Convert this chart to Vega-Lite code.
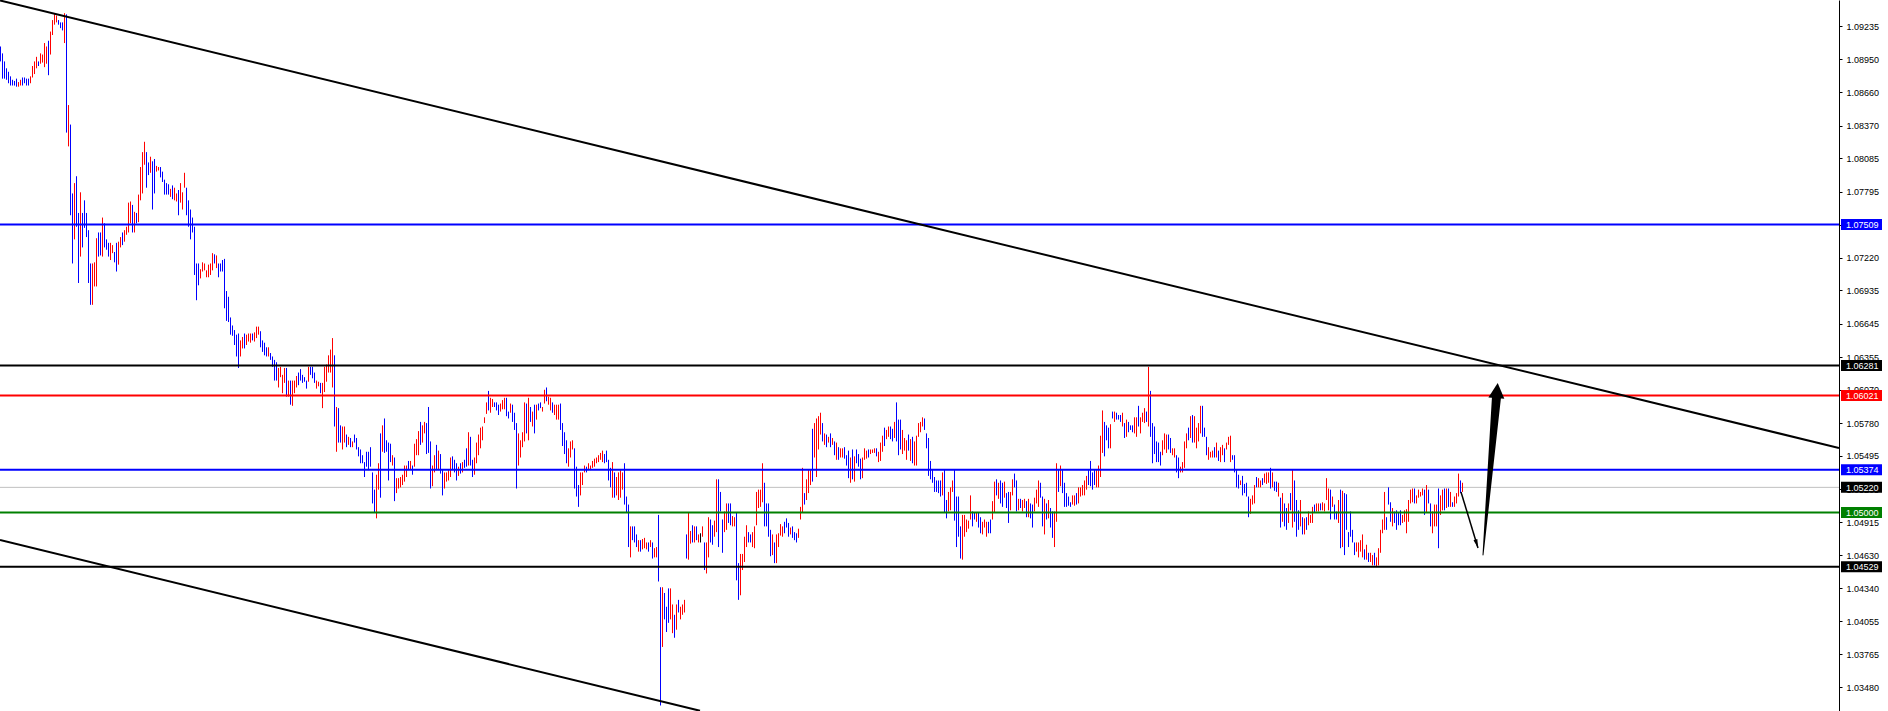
{
"$schema": "https://vega.github.io/schema/vega-lite/v6.json",
"width": 1839, "height": 711,
"autosize": "none",
"padding": {"left": 0, "top": 0, "right": 49, "bottom": 0},
"background": "#ffffff",
"config": {"view": {"stroke": null}},
"resolve": {"axis": {"y": "independent", "x": "independent"}},
"datasets": {
"bars": [
{"i":0,"h":1.0906,"l":1.0893,"t":"d"},{"i":1,"h":1.0900,"l":1.0878,"t":"d"},{"i":2,"h":1.0893,"l":1.0878,"t":"d"},{"i":3,"h":1.0887,"l":1.0877,"t":"d"},{"i":4,"h":1.0884,"l":1.0874,"t":"d"},{"i":5,"h":1.0880,"l":1.0872,"t":"d"},{"i":6,"h":1.0877,"l":1.0872,"t":"d"},{"i":7,"h":1.0876,"l":1.0872,"t":"d"},{"i":8,"h":1.0878,"l":1.0871,"t":"d"},{"i":9,"h":1.0875,"l":1.0871,"t":"u"},
{"i":10,"h":1.0877,"l":1.0872,"t":"u"},{"i":11,"h":1.0879,"l":1.0872,"t":"d"},{"i":12,"h":1.0879,"l":1.0874,"t":"d"},{"i":13,"h":1.0878,"l":1.0872,"t":"d"},{"i":14,"h":1.0878,"l":1.0872,"t":"d"},{"i":15,"h":1.0880,"l":1.0874,"t":"u"},{"i":16,"h":1.0889,"l":1.0879,"t":"u"},{"i":17,"h":1.0893,"l":1.0882,"t":"u"},{"i":18,"h":1.0897,"l":1.0887,"t":"u"},{"i":19,"h":1.0893,"l":1.0889,"t":"d"},
{"i":20,"h":1.0900,"l":1.0891,"t":"u"},{"i":21,"h":1.0899,"l":1.0892,"t":"u"},{"i":22,"h":1.0909,"l":1.0888,"t":"u"},{"i":23,"h":1.0906,"l":1.0891,"t":"u"},{"i":24,"h":1.0911,"l":1.0881,"t":"d"},{"i":25,"h":1.0919,"l":1.0899,"t":"u"},{"i":26,"h":1.0929,"l":1.0916,"t":"u"},{"i":27,"h":1.0935,"l":1.0925,"t":"u"},{"i":28,"h":1.0933,"l":1.0927,"t":"u"},{"i":29,"h":1.0929,"l":1.0925,"t":"d"},
{"i":30,"h":1.0927,"l":1.0922,"t":"d"},{"i":31,"h":1.0927,"l":1.0920,"t":"d"},{"i":32,"h":1.0935,"l":1.0909,"t":"u"},{"i":33,"h":1.0934,"l":1.0831,"t":"d"},{"i":34,"h":1.0855,"l":1.0819,"t":"u"},{"i":35,"h":1.0838,"l":1.0759,"t":"d"},{"i":36,"h":1.0778,"l":1.0717,"t":"d"},{"i":37,"h":1.0787,"l":1.0738,"t":"u"},{"i":38,"h":1.0793,"l":1.0749,"t":"d"},{"i":39,"h":1.0761,"l":1.0700,"t":"d"},
{"i":40,"h":1.0779,"l":1.0723,"t":"u"},{"i":41,"h":1.0761,"l":1.0731,"t":"d"},{"i":42,"h":1.0772,"l":1.0748,"t":"d"},{"i":43,"h":1.0761,"l":1.0740,"t":"d"},{"i":44,"h":1.0746,"l":1.0700,"t":"d"},{"i":45,"h":1.0717,"l":1.0681,"t":"d"},{"i":46,"h":1.0717,"l":1.0681,"t":"u"},{"i":47,"h":1.0718,"l":1.0697,"t":"u"},{"i":48,"h":1.0739,"l":1.0697,"t":"u"},{"i":49,"h":1.0744,"l":1.0723,"t":"d"},
{"i":50,"h":1.0744,"l":1.0724,"t":"d"},{"i":51,"h":1.0757,"l":1.0723,"t":"u"},{"i":52,"h":1.0752,"l":1.0731,"t":"d"},{"i":53,"h":1.0738,"l":1.0729,"t":"d"},{"i":54,"h":1.0735,"l":1.0723,"t":"d"},{"i":55,"h":1.0735,"l":1.0720,"t":"u"},{"i":56,"h":1.0733,"l":1.0726,"t":"u"},{"i":57,"h":1.0727,"l":1.0718,"t":"d"},{"i":58,"h":1.0735,"l":1.0710,"t":"d"},{"i":59,"h":1.0736,"l":1.0716,"t":"u"},
{"i":60,"h":1.0740,"l":1.0731,"t":"u"},{"i":61,"h":1.0744,"l":1.0733,"t":"d"},{"i":62,"h":1.0746,"l":1.0736,"t":"u"},{"i":63,"h":1.0749,"l":1.0742,"t":"u"},{"i":64,"h":1.0770,"l":1.0744,"t":"u"},{"i":65,"h":1.0771,"l":1.0752,"t":"u"},{"i":66,"h":1.0768,"l":1.0744,"t":"d"},{"i":67,"h":1.0762,"l":1.0744,"t":"u"},{"i":68,"h":1.0761,"l":1.0752,"t":"d"},{"i":69,"h":1.0777,"l":1.0753,"t":"u"},
{"i":70,"h":1.0801,"l":1.0772,"t":"u"},{"i":71,"h":1.0814,"l":1.0778,"t":"u"},{"i":72,"h":1.0823,"l":1.0803,"t":"u"},{"i":73,"h":1.0814,"l":1.0783,"t":"d"},{"i":74,"h":1.0805,"l":1.0794,"t":"d"},{"i":75,"h":1.0810,"l":1.0796,"t":"u"},{"i":76,"h":1.0806,"l":1.0764,"t":"d"},{"i":77,"h":1.0808,"l":1.0778,"t":"d"},{"i":78,"h":1.0802,"l":1.0797,"t":"u"},{"i":79,"h":1.0801,"l":1.0798,"t":"u"},
{"i":80,"h":1.0801,"l":1.0792,"t":"d"},{"i":81,"h":1.0797,"l":1.0788,"t":"d"},{"i":82,"h":1.0790,"l":1.0777,"t":"d"},{"i":83,"h":1.0787,"l":1.0777,"t":"d"},{"i":84,"h":1.0786,"l":1.0777,"t":"d"},{"i":85,"h":1.0782,"l":1.0775,"t":"u"},{"i":86,"h":1.0785,"l":1.0773,"t":"d"},{"i":87,"h":1.0783,"l":1.0772,"t":"u"},{"i":88,"h":1.0778,"l":1.0771,"t":"u"},{"i":89,"h":1.0781,"l":1.0759,"t":"d"},
{"i":90,"h":1.0787,"l":1.0770,"t":"u"},{"i":91,"h":1.0779,"l":1.0764,"t":"u"},{"i":92,"h":1.0796,"l":1.0783,"t":"u"},{"i":93,"h":1.0783,"l":1.0759,"t":"d"},{"i":94,"h":1.0772,"l":1.0749,"t":"d"},{"i":95,"h":1.0764,"l":1.0738,"t":"d"},{"i":96,"h":1.0757,"l":1.0744,"t":"d"},{"i":97,"h":1.0749,"l":1.0707,"t":"d"},{"i":98,"h":1.0717,"l":1.0685,"t":"d"},{"i":99,"h":1.0717,"l":1.0698,"t":"d"},
{"i":100,"h":1.0712,"l":1.0704,"t":"u"},{"i":101,"h":1.0718,"l":1.0710,"t":"u"},{"i":102,"h":1.0717,"l":1.0711,"t":"u"},{"i":103,"h":1.0711,"l":1.0705,"t":"u"},{"i":104,"h":1.0716,"l":1.0705,"t":"u"},{"i":105,"h":1.0717,"l":1.0707,"t":"u"},{"i":106,"h":1.0726,"l":1.0711,"t":"u"},{"i":107,"h":1.0725,"l":1.0717,"t":"d"},{"i":108,"h":1.0724,"l":1.0713,"t":"u"},{"i":109,"h":1.0717,"l":1.0705,"t":"d"},
{"i":110,"h":1.0717,"l":1.0710,"t":"d"},{"i":111,"h":1.0720,"l":1.0710,"t":"d"},{"i":112,"h":1.0721,"l":1.0678,"t":"d"},{"i":113,"h":1.0693,"l":1.0667,"t":"d"},{"i":114,"h":1.0688,"l":1.0666,"t":"d"},{"i":115,"h":1.0670,"l":1.0655,"t":"d"},{"i":116,"h":1.0663,"l":1.0654,"t":"d"},{"i":117,"h":1.0659,"l":1.0646,"t":"d"},{"i":118,"h":1.0655,"l":1.0636,"t":"d"},{"i":119,"h":1.0656,"l":1.0626,"t":"d"},
{"i":120,"h":1.0650,"l":1.0636,"t":"u"},{"i":121,"h":1.0653,"l":1.0643,"t":"u"},{"i":122,"h":1.0656,"l":1.0643,"t":"d"},{"i":123,"h":1.0655,"l":1.0646,"t":"u"},{"i":124,"h":1.0656,"l":1.0649,"t":"u"},{"i":125,"h":1.0656,"l":1.0648,"t":"u"},{"i":126,"h":1.0656,"l":1.0650,"t":"d"},{"i":127,"h":1.0657,"l":1.0649,"t":"u"},{"i":128,"h":1.0662,"l":1.0652,"t":"u"},{"i":129,"h":1.0662,"l":1.0655,"t":"u"},
{"i":130,"h":1.0658,"l":1.0644,"t":"d"},{"i":131,"h":1.0650,"l":1.0640,"t":"d"},{"i":132,"h":1.0648,"l":1.0637,"t":"d"},{"i":133,"h":1.0644,"l":1.0636,"t":"d"},{"i":134,"h":1.0644,"l":1.0636,"t":"u"},{"i":135,"h":1.0639,"l":1.0633,"t":"d"},{"i":136,"h":1.0636,"l":1.0627,"t":"d"},{"i":137,"h":1.0633,"l":1.0615,"t":"d"},{"i":138,"h":1.0631,"l":1.0615,"t":"d"},{"i":139,"h":1.0626,"l":1.0609,"t":"u"},
{"i":140,"h":1.0627,"l":1.0618,"t":"u"},{"i":141,"h":1.0620,"l":1.0604,"t":"u"},{"i":142,"h":1.0626,"l":1.0613,"t":"u"},{"i":143,"h":1.0626,"l":1.0601,"t":"d"},{"i":144,"h":1.0615,"l":1.0601,"t":"u"},{"i":145,"h":1.0615,"l":1.0594,"t":"d"},{"i":146,"h":1.0615,"l":1.0593,"t":"u"},{"i":147,"h":1.0615,"l":1.0604,"t":"u"},{"i":148,"h":1.0619,"l":1.0609,"t":"u"},{"i":149,"h":1.0622,"l":1.0611,"t":"d"},
{"i":150,"h":1.0625,"l":1.0615,"t":"d"},{"i":151,"h":1.0620,"l":1.0613,"t":"d"},{"i":152,"h":1.0618,"l":1.0614,"t":"d"},{"i":153,"h":1.0615,"l":1.0608,"t":"d"},{"i":154,"h":1.0627,"l":1.0614,"t":"u"},{"i":155,"h":1.0627,"l":1.0620,"t":"d"},{"i":156,"h":1.0627,"l":1.0617,"t":"d"},{"i":157,"h":1.0622,"l":1.0613,"t":"d"},{"i":158,"h":1.0615,"l":1.0608,"t":"u"},{"i":159,"h":1.0614,"l":1.0610,"t":"u"},
{"i":160,"h":1.0613,"l":1.0604,"t":"d"},{"i":161,"h":1.0613,"l":1.0591,"t":"u"},{"i":162,"h":1.0627,"l":1.0605,"t":"u"},{"i":163,"h":1.0629,"l":1.0614,"t":"u"},{"i":164,"h":1.0637,"l":1.0622,"t":"u"},{"i":165,"h":1.0642,"l":1.0622,"t":"u"},{"i":166,"h":1.0652,"l":1.0609,"t":"u"},{"i":167,"h":1.0637,"l":1.0575,"t":"d"},{"i":168,"h":1.0592,"l":1.0553,"t":"u"},{"i":169,"h":1.0591,"l":1.0561,"t":"d"},
{"i":170,"h":1.0576,"l":1.0561,"t":"d"},{"i":171,"h":1.0575,"l":1.0555,"t":"u"},{"i":172,"h":1.0575,"l":1.0561,"t":"u"},{"i":173,"h":1.0568,"l":1.0557,"t":"d"},{"i":174,"h":1.0566,"l":1.0559,"t":"u"},{"i":175,"h":1.0565,"l":1.0557,"t":"d"},{"i":176,"h":1.0562,"l":1.0557,"t":"u"},{"i":177,"h":1.0568,"l":1.0561,"t":"d"},{"i":178,"h":1.0565,"l":1.0555,"t":"d"},{"i":179,"h":1.0557,"l":1.0549,"t":"d"},
{"i":180,"h":1.0555,"l":1.0543,"t":"d"},{"i":181,"h":1.0550,"l":1.0543,"t":"d"},{"i":182,"h":1.0544,"l":1.0531,"t":"d"},{"i":183,"h":1.0553,"l":1.0540,"t":"d"},{"i":184,"h":1.0553,"l":1.0537,"t":"d"},{"i":185,"h":1.0557,"l":1.0540,"t":"d"},{"i":186,"h":1.0535,"l":1.0508,"t":"d"},{"i":187,"h":1.0520,"l":1.0500,"t":"d"},{"i":188,"h":1.0533,"l":1.0495,"t":"u"},{"i":189,"h":1.0543,"l":1.0520,"t":"u"},
{"i":190,"h":1.0569,"l":1.0513,"t":"d"},{"i":191,"h":1.0576,"l":1.0553,"t":"u"},{"i":192,"h":1.0582,"l":1.0552,"t":"d"},{"i":193,"h":1.0563,"l":1.0553,"t":"d"},{"i":194,"h":1.0561,"l":1.0528,"t":"d"},{"i":195,"h":1.0560,"l":1.0544,"t":"d"},{"i":196,"h":1.0550,"l":1.0541,"t":"u"},{"i":197,"h":1.0548,"l":1.0510,"t":"d"},{"i":198,"h":1.0530,"l":1.0517,"t":"u"},{"i":199,"h":1.0530,"l":1.0521,"t":"u"},
{"i":200,"h":1.0531,"l":1.0522,"t":"u"},{"i":201,"h":1.0533,"l":1.0524,"t":"u"},{"i":202,"h":1.0541,"l":1.0527,"t":"u"},{"i":203,"h":1.0541,"l":1.0531,"t":"u"},{"i":204,"h":1.0545,"l":1.0537,"t":"d"},{"i":205,"h":1.0545,"l":1.0538,"t":"u"},{"i":206,"h":1.0541,"l":1.0533,"t":"d"},{"i":207,"h":1.0560,"l":1.0540,"t":"u"},{"i":208,"h":1.0564,"l":1.0550,"t":"u"},{"i":209,"h":1.0571,"l":1.0550,"t":"u"},
{"i":210,"h":1.0579,"l":1.0559,"t":"d"},{"i":211,"h":1.0576,"l":1.0561,"t":"u"},{"i":212,"h":1.0579,"l":1.0569,"t":"u"},{"i":213,"h":1.0578,"l":1.0551,"t":"d"},{"i":214,"h":1.0592,"l":1.0552,"t":"d"},{"i":215,"h":1.0562,"l":1.0521,"t":"d"},{"i":216,"h":1.0541,"l":1.0523,"t":"u"},{"i":217,"h":1.0550,"l":1.0535,"t":"u"},{"i":218,"h":1.0559,"l":1.0537,"t":"d"},{"i":219,"h":1.0554,"l":1.0537,"t":"u"},
{"i":220,"h":1.0551,"l":1.0534,"t":"d"},{"i":221,"h":1.0537,"l":1.0515,"t":"d"},{"i":222,"h":1.0535,"l":1.0521,"t":"u"},{"i":223,"h":1.0535,"l":1.0527,"t":"u"},{"i":224,"h":1.0537,"l":1.0528,"t":"u"},{"i":225,"h":1.0548,"l":1.0531,"t":"u"},{"i":226,"h":1.0549,"l":1.0537,"t":"d"},{"i":227,"h":1.0546,"l":1.0535,"t":"d"},{"i":228,"h":1.0543,"l":1.0528,"t":"d"},{"i":229,"h":1.0540,"l":1.0532,"t":"u"},
{"i":230,"h":1.0543,"l":1.0534,"t":"d"},{"i":231,"h":1.0544,"l":1.0535,"t":"u"},{"i":232,"h":1.0546,"l":1.0539,"t":"d"},{"i":233,"h":1.0556,"l":1.0540,"t":"d"},{"i":234,"h":1.0570,"l":1.0541,"t":"u"},{"i":235,"h":1.0566,"l":1.0541,"t":"d"},{"i":236,"h":1.0546,"l":1.0531,"t":"d"},{"i":237,"h":1.0548,"l":1.0533,"t":"u"},{"i":238,"h":1.0561,"l":1.0543,"t":"u"},{"i":239,"h":1.0568,"l":1.0550,"t":"u"},
{"i":240,"h":1.0574,"l":1.0556,"t":"u"},{"i":241,"h":1.0575,"l":1.0563,"t":"u"},{"i":242,"h":1.0583,"l":1.0578,"t":"u"},{"i":243,"h":1.0596,"l":1.0586,"t":"u"},{"i":244,"h":1.0606,"l":1.0589,"t":"d"},{"i":245,"h":1.0600,"l":1.0587,"t":"u"},{"i":246,"h":1.0599,"l":1.0592,"t":"u"},{"i":247,"h":1.0596,"l":1.0592,"t":"d"},{"i":248,"h":1.0596,"l":1.0589,"t":"d"},{"i":249,"h":1.0594,"l":1.0585,"t":"d"},
{"i":250,"h":1.0595,"l":1.0588,"t":"u"},{"i":251,"h":1.0598,"l":1.0590,"t":"u"},{"i":252,"h":1.0600,"l":1.0590,"t":"u"},{"i":253,"h":1.0600,"l":1.0584,"t":"d"},{"i":254,"h":1.0588,"l":1.0582,"t":"d"},{"i":255,"h":1.0595,"l":1.0587,"t":"u"},{"i":256,"h":1.0594,"l":1.0579,"t":"d"},{"i":257,"h":1.0587,"l":1.0572,"t":"d"},{"i":258,"h":1.0578,"l":1.0521,"t":"d"},{"i":259,"h":1.0569,"l":1.0541,"t":"u"},
{"i":260,"h":1.0563,"l":1.0548,"t":"u"},{"i":261,"h":1.0570,"l":1.0557,"t":"u"},{"i":262,"h":1.0596,"l":1.0562,"t":"u"},{"i":263,"h":1.0595,"l":1.0569,"t":"d"},{"i":264,"h":1.0600,"l":1.0563,"t":"u"},{"i":265,"h":1.0592,"l":1.0579,"t":"d"},{"i":266,"h":1.0588,"l":1.0575,"t":"u"},{"i":267,"h":1.0594,"l":1.0569,"t":"d"},{"i":268,"h":1.0594,"l":1.0581,"t":"u"},{"i":269,"h":1.0595,"l":1.0589,"t":"d"},
{"i":270,"h":1.0596,"l":1.0591,"t":"d"},{"i":271,"h":1.0592,"l":1.0588,"t":"u"},{"i":272,"h":1.0607,"l":1.0595,"t":"u"},{"i":273,"h":1.0609,"l":1.0597,"t":"d"},{"i":274,"h":1.0601,"l":1.0594,"t":"u"},{"i":275,"h":1.0600,"l":1.0589,"t":"u"},{"i":276,"h":1.0596,"l":1.0587,"t":"d"},{"i":277,"h":1.0594,"l":1.0585,"t":"u"},{"i":278,"h":1.0594,"l":1.0581,"t":"u"},{"i":279,"h":1.0594,"l":1.0581,"t":"u"},
{"i":280,"h":1.0595,"l":1.0572,"t":"d"},{"i":281,"h":1.0578,"l":1.0558,"t":"d"},{"i":282,"h":1.0570,"l":1.0551,"t":"d"},{"i":283,"h":1.0563,"l":1.0543,"t":"d"},{"i":284,"h":1.0556,"l":1.0540,"t":"u"},{"i":285,"h":1.0562,"l":1.0548,"t":"u"},{"i":286,"h":1.0563,"l":1.0555,"t":"u"},{"i":287,"h":1.0556,"l":1.0521,"t":"d"},{"i":288,"h":1.0540,"l":1.0514,"t":"d"},{"i":289,"h":1.0524,"l":1.0505,"t":"d"},
{"i":290,"h":1.0535,"l":1.0515,"t":"u"},{"i":291,"h":1.0535,"l":1.0524,"t":"u"},{"i":292,"h":1.0541,"l":1.0535,"t":"u"},{"i":293,"h":1.0540,"l":1.0535,"t":"d"},{"i":294,"h":1.0543,"l":1.0537,"t":"u"},{"i":295,"h":1.0541,"l":1.0537,"t":"u"},{"i":296,"h":1.0545,"l":1.0539,"t":"u"},{"i":297,"h":1.0547,"l":1.0540,"t":"u"},{"i":298,"h":1.0548,"l":1.0543,"t":"u"},{"i":299,"h":1.0550,"l":1.0544,"t":"u"},
{"i":300,"h":1.0552,"l":1.0546,"t":"u"},{"i":301,"h":1.0554,"l":1.0544,"t":"u"},{"i":302,"h":1.0551,"l":1.0543,"t":"d"},{"i":303,"h":1.0554,"l":1.0544,"t":"d"},{"i":304,"h":1.0546,"l":1.0528,"t":"d"},{"i":305,"h":1.0539,"l":1.0522,"t":"d"},{"i":306,"h":1.0544,"l":1.0513,"t":"u"},{"i":307,"h":1.0535,"l":1.0513,"t":"d"},{"i":308,"h":1.0531,"l":1.0515,"t":"u"},{"i":309,"h":1.0535,"l":1.0511,"t":"u"},
{"i":310,"h":1.0537,"l":1.0513,"t":"u"},{"i":311,"h":1.0535,"l":1.0520,"t":"u"},{"i":312,"h":1.0543,"l":1.0507,"t":"d"},{"i":313,"h":1.0514,"l":1.0500,"t":"d"},{"i":314,"h":1.0507,"l":1.0470,"t":"d"},{"i":315,"h":1.0488,"l":1.0461,"t":"u"},{"i":316,"h":1.0488,"l":1.0476,"t":"d"},{"i":317,"h":1.0488,"l":1.0474,"t":"d"},{"i":318,"h":1.0481,"l":1.0470,"t":"d"},{"i":319,"h":1.0476,"l":1.0466,"t":"u"},
{"i":320,"h":1.0476,"l":1.0466,"t":"d"},{"i":321,"h":1.0477,"l":1.0468,"t":"u"},{"i":322,"h":1.0478,"l":1.0469,"t":"u"},{"i":323,"h":1.0474,"l":1.0468,"t":"u"},{"i":324,"h":1.0474,"l":1.0466,"t":"d"},{"i":325,"h":1.0476,"l":1.0470,"t":"u"},{"i":326,"h":1.0474,"l":1.0460,"t":"d"},{"i":327,"h":1.0469,"l":1.0461,"t":"u"},{"i":328,"h":1.0470,"l":1.0461,"t":"u"},{"i":329,"h":1.0498,"l":1.0440,"t":"d"},
{"i":330,"h":1.0435,"l":1.0332,"t":"d"},{"i":331,"h":1.0435,"l":1.0383,"t":"u"},{"i":332,"h":1.0430,"l":1.0407,"t":"d"},{"i":333,"h":1.0418,"l":1.0396,"t":"d"},{"i":334,"h":1.0434,"l":1.0404,"t":"d"},{"i":335,"h":1.0434,"l":1.0407,"t":"u"},{"i":336,"h":1.0420,"l":1.0395,"t":"u"},{"i":337,"h":1.0411,"l":1.0391,"t":"d"},{"i":338,"h":1.0420,"l":1.0398,"t":"u"},{"i":339,"h":1.0424,"l":1.0413,"t":"d"},
{"i":340,"h":1.0418,"l":1.0407,"t":"u"},{"i":341,"h":1.0420,"l":1.0411,"t":"u"},{"i":342,"h":1.0424,"l":1.0413,"t":"u"},{"i":343,"h":1.0481,"l":1.0460,"t":"d"},{"i":344,"h":1.0500,"l":1.0459,"t":"u"},{"i":345,"h":1.0484,"l":1.0473,"t":"u"},{"i":346,"h":1.0489,"l":1.0474,"t":"d"},{"i":347,"h":1.0488,"l":1.0474,"t":"u"},{"i":348,"h":1.0488,"l":1.0476,"t":"d"},{"i":349,"h":1.0481,"l":1.0474,"t":"u"},
{"i":350,"h":1.0482,"l":1.0474,"t":"e"},{"i":351,"h":1.0488,"l":1.0479,"t":"u"},{"i":352,"h":1.0474,"l":1.0450,"t":"d"},{"i":353,"h":1.0474,"l":1.0447,"t":"u"},{"i":354,"h":1.0496,"l":1.0461,"t":"u"},{"i":355,"h":1.0494,"l":1.0474,"t":"d"},{"i":356,"h":1.0489,"l":1.0472,"t":"d"},{"i":357,"h":1.0493,"l":1.0479,"t":"u"},{"i":358,"h":1.0529,"l":1.0483,"t":"u"},{"i":359,"h":1.0529,"l":1.0470,"t":"d"},
{"i":360,"h":1.0518,"l":1.0501,"t":"d"},{"i":361,"h":1.0494,"l":1.0465,"t":"d"},{"i":362,"h":1.0501,"l":1.0483,"t":"u"},{"i":363,"h":1.0508,"l":1.0485,"t":"u"},{"i":364,"h":1.0508,"l":1.0491,"t":"d"},{"i":365,"h":1.0508,"l":1.0489,"t":"d"},{"i":366,"h":1.0497,"l":1.0488,"t":"u"},{"i":367,"h":1.0496,"l":1.0488,"t":"u"},{"i":368,"h":1.0500,"l":1.0441,"t":"d"},{"i":369,"h":1.0456,"l":1.0424,"t":"d"},
{"i":370,"h":1.0464,"l":1.0428,"t":"u"},{"i":371,"h":1.0464,"l":1.0450,"t":"u"},{"i":372,"h":1.0479,"l":1.0457,"t":"u"},{"i":373,"h":1.0489,"l":1.0470,"t":"u"},{"i":374,"h":1.0483,"l":1.0474,"t":"d"},{"i":375,"h":1.0481,"l":1.0474,"t":"d"},{"i":376,"h":1.0483,"l":1.0470,"t":"u"},{"i":377,"h":1.0488,"l":1.0469,"t":"u"},{"i":378,"h":1.0518,"l":1.0489,"t":"u"},{"i":379,"h":1.0520,"l":1.0504,"t":"u"},
{"i":380,"h":1.0520,"l":1.0505,"t":"u"},{"i":381,"h":1.0543,"l":1.0509,"t":"u"},{"i":382,"h":1.0526,"l":1.0488,"t":"d"},{"i":383,"h":1.0508,"l":1.0488,"t":"d"},{"i":384,"h":1.0508,"l":1.0479,"t":"d"},{"i":385,"h":1.0485,"l":1.0462,"t":"d"},{"i":386,"h":1.0481,"l":1.0463,"t":"u"},{"i":387,"h":1.0474,"l":1.0456,"t":"d"},{"i":388,"h":1.0481,"l":1.0456,"t":"u"},{"i":389,"h":1.0482,"l":1.0470,"t":"u"},
{"i":390,"h":1.0490,"l":1.0480,"t":"u"},{"i":391,"h":1.0488,"l":1.0479,"t":"u"},{"i":392,"h":1.0492,"l":1.0482,"t":"d"},{"i":393,"h":1.0495,"l":1.0487,"t":"d"},{"i":394,"h":1.0491,"l":1.0479,"t":"d"},{"i":395,"h":1.0487,"l":1.0481,"t":"u"},{"i":396,"h":1.0488,"l":1.0478,"t":"d"},{"i":397,"h":1.0483,"l":1.0476,"t":"d"},{"i":398,"h":1.0482,"l":1.0474,"t":"d"},{"i":399,"h":1.0486,"l":1.0478,"t":"u"},
{"i":400,"h":1.0505,"l":1.0494,"t":"u"},{"i":401,"h":1.0539,"l":1.0500,"t":"u"},{"i":402,"h":1.0517,"l":1.0507,"t":"d"},{"i":403,"h":1.0529,"l":1.0511,"t":"u"},{"i":404,"h":1.0537,"l":1.0517,"t":"u"},{"i":405,"h":1.0537,"l":1.0524,"t":"u"},{"i":406,"h":1.0573,"l":1.0527,"t":"d"},{"i":407,"h":1.0578,"l":1.0548,"t":"u"},{"i":408,"h":1.0582,"l":1.0531,"t":"u"},{"i":409,"h":1.0584,"l":1.0555,"t":"u"},
{"i":410,"h":1.0587,"l":1.0568,"t":"u"},{"i":411,"h":1.0578,"l":1.0562,"t":"d"},{"i":412,"h":1.0569,"l":1.0559,"t":"u"},{"i":413,"h":1.0568,"l":1.0557,"t":"d"},{"i":414,"h":1.0566,"l":1.0561,"t":"u"},{"i":415,"h":1.0569,"l":1.0557,"t":"d"},{"i":416,"h":1.0565,"l":1.0559,"t":"u"},{"i":417,"h":1.0562,"l":1.0550,"t":"d"},{"i":418,"h":1.0561,"l":1.0546,"t":"u"},{"i":419,"h":1.0557,"l":1.0546,"t":"d"},
{"i":420,"h":1.0556,"l":1.0548,"t":"u"},{"i":421,"h":1.0556,"l":1.0548,"t":"u"},{"i":422,"h":1.0557,"l":1.0547,"t":"d"},{"i":423,"h":1.0550,"l":1.0541,"t":"d"},{"i":424,"h":1.0554,"l":1.0530,"t":"d"},{"i":425,"h":1.0548,"l":1.0526,"t":"u"},{"i":426,"h":1.0555,"l":1.0529,"t":"d"},{"i":427,"h":1.0549,"l":1.0527,"t":"u"},{"i":428,"h":1.0555,"l":1.0543,"t":"d"},{"i":429,"h":1.0551,"l":1.0540,"t":"d"},
{"i":430,"h":1.0547,"l":1.0529,"t":"d"},{"i":431,"h":1.0548,"l":1.0530,"t":"u"},{"i":432,"h":1.0556,"l":1.0546,"t":"u"},{"i":433,"h":1.0554,"l":1.0547,"t":"u"},{"i":434,"h":1.0555,"l":1.0548,"t":"d"},{"i":435,"h":1.0555,"l":1.0551,"t":"u"},{"i":436,"h":1.0555,"l":1.0552,"t":"u"},{"i":437,"h":1.0556,"l":1.0552,"t":"u"},{"i":438,"h":1.0556,"l":1.0549,"t":"d"},{"i":439,"h":1.0553,"l":1.0544,"t":"u"},
{"i":440,"h":1.0561,"l":1.0545,"t":"u"},{"i":441,"h":1.0567,"l":1.0553,"t":"u"},{"i":442,"h":1.0574,"l":1.0558,"t":"d"},{"i":443,"h":1.0572,"l":1.0564,"t":"u"},{"i":444,"h":1.0575,"l":1.0566,"t":"u"},{"i":445,"h":1.0575,"l":1.0564,"t":"d"},{"i":446,"h":1.0573,"l":1.0562,"t":"d"},{"i":447,"h":1.0579,"l":1.0565,"t":"u"},{"i":448,"h":1.0596,"l":1.0562,"t":"d"},{"i":449,"h":1.0581,"l":1.0550,"t":"d"},
{"i":450,"h":1.0581,"l":1.0555,"t":"d"},{"i":451,"h":1.0572,"l":1.0551,"t":"u"},{"i":452,"h":1.0565,"l":1.0554,"t":"u"},{"i":453,"h":1.0563,"l":1.0546,"t":"u"},{"i":454,"h":1.0568,"l":1.0554,"t":"d"},{"i":455,"h":1.0564,"l":1.0545,"t":"u"},{"i":456,"h":1.0566,"l":1.0543,"t":"d"},{"i":457,"h":1.0562,"l":1.0541,"t":"u"},{"i":458,"h":1.0567,"l":1.0541,"t":"u"},{"i":459,"h":1.0578,"l":1.0566,"t":"u"},
{"i":460,"h":1.0579,"l":1.0570,"t":"u"},{"i":461,"h":1.0583,"l":1.0575,"t":"u"},{"i":462,"h":1.0582,"l":1.0572,"t":"d"},{"i":463,"h":1.0569,"l":1.0556,"t":"d"},{"i":464,"h":1.0565,"l":1.0532,"t":"d"},{"i":465,"h":1.0545,"l":1.0529,"t":"d"},{"i":466,"h":1.0537,"l":1.0526,"t":"d"},{"i":467,"h":1.0531,"l":1.0518,"t":"d"},{"i":468,"h":1.0528,"l":1.0518,"t":"d"},{"i":469,"h":1.0528,"l":1.0517,"t":"d"},
{"i":470,"h":1.0528,"l":1.0514,"t":"d"},{"i":471,"h":1.0535,"l":1.0515,"t":"u"},{"i":472,"h":1.0537,"l":1.0500,"t":"d"},{"i":473,"h":1.0511,"l":1.0495,"t":"d"},{"i":474,"h":1.0518,"l":1.0501,"t":"u"},{"i":475,"h":1.0522,"l":1.0502,"t":"u"},{"i":476,"h":1.0528,"l":1.0518,"t":"u"},{"i":477,"h":1.0537,"l":1.0493,"t":"d"},{"i":478,"h":1.0514,"l":1.0470,"t":"d"},{"i":479,"h":1.0514,"l":1.0479,"t":"d"},
{"i":480,"h":1.0488,"l":1.0460,"t":"d"},{"i":481,"h":1.0498,"l":1.0459,"t":"u"},{"i":482,"h":1.0498,"l":1.0479,"t":"u"},{"i":483,"h":1.0494,"l":1.0483,"t":"u"},{"i":484,"h":1.0493,"l":1.0486,"t":"u"},{"i":485,"h":1.0515,"l":1.0494,"t":"u"},{"i":486,"h":1.0501,"l":1.0488,"t":"d"},{"i":487,"h":1.0500,"l":1.0494,"t":"d"},{"i":488,"h":1.0500,"l":1.0492,"t":"u"},{"i":489,"h":1.0500,"l":1.0487,"t":"d"},
{"i":490,"h":1.0496,"l":1.0482,"t":"d"},{"i":491,"h":1.0492,"l":1.0481,"t":"u"},{"i":492,"h":1.0494,"l":1.0487,"t":"u"},{"i":493,"h":1.0492,"l":1.0479,"t":"u"},{"i":494,"h":1.0492,"l":1.0482,"t":"d"},{"i":495,"h":1.0494,"l":1.0482,"t":"d"},{"i":496,"h":1.0510,"l":1.0494,"t":"u"},{"i":497,"h":1.0527,"l":1.0500,"t":"u"},{"i":498,"h":1.0529,"l":1.0515,"t":"d"},{"i":499,"h":1.0526,"l":1.0512,"t":"u"},
{"i":500,"h":1.0528,"l":1.0508,"t":"d"},{"i":501,"h":1.0526,"l":1.0505,"t":"d"},{"i":502,"h":1.0527,"l":1.0513,"t":"u"},{"i":503,"h":1.0517,"l":1.0504,"t":"d"},{"i":504,"h":1.0518,"l":1.0491,"t":"d"},{"i":505,"h":1.0518,"l":1.0502,"t":"u"},{"i":506,"h":1.0529,"l":1.0515,"t":"u"},{"i":507,"h":1.0534,"l":1.0522,"t":"d"},{"i":508,"h":1.0528,"l":1.0501,"t":"d"},{"i":509,"h":1.0512,"l":1.0502,"t":"u"},
{"i":510,"h":1.0512,"l":1.0504,"t":"d"},{"i":511,"h":1.0511,"l":1.0501,"t":"u"},{"i":512,"h":1.0512,"l":1.0504,"t":"u"},{"i":513,"h":1.0510,"l":1.0496,"t":"d"},{"i":514,"h":1.0512,"l":1.0496,"t":"u"},{"i":515,"h":1.0508,"l":1.0495,"t":"d"},{"i":516,"h":1.0507,"l":1.0487,"t":"d"},{"i":517,"h":1.0513,"l":1.0501,"t":"u"},{"i":518,"h":1.0520,"l":1.0508,"t":"u"},{"i":519,"h":1.0528,"l":1.0505,"t":"u"},
{"i":520,"h":1.0526,"l":1.0513,"t":"d"},{"i":521,"h":1.0514,"l":1.0488,"t":"d"},{"i":522,"h":1.0512,"l":1.0481,"t":"u"},{"i":523,"h":1.0508,"l":1.0494,"t":"d"},{"i":524,"h":1.0511,"l":1.0495,"t":"u"},{"i":525,"h":1.0504,"l":1.0487,"t":"d"},{"i":526,"h":1.0501,"l":1.0478,"t":"d"},{"i":527,"h":1.0501,"l":1.0470,"t":"u"},{"i":528,"h":1.0543,"l":1.0492,"t":"u"},{"i":529,"h":1.0537,"l":1.0518,"t":"d"},
{"i":530,"h":1.0541,"l":1.0523,"t":"u"},{"i":531,"h":1.0537,"l":1.0517,"t":"d"},{"i":532,"h":1.0526,"l":1.0505,"t":"d"},{"i":533,"h":1.0517,"l":1.0505,"t":"d"},{"i":534,"h":1.0514,"l":1.0506,"t":"d"},{"i":535,"h":1.0509,"l":1.0505,"t":"d"},{"i":536,"h":1.0515,"l":1.0507,"t":"u"},{"i":537,"h":1.0515,"l":1.0506,"t":"u"},{"i":538,"h":1.0517,"l":1.0507,"t":"d"},{"i":539,"h":1.0522,"l":1.0508,"t":"u"},
{"i":540,"h":1.0522,"l":1.0514,"t":"u"},{"i":541,"h":1.0524,"l":1.0515,"t":"u"},{"i":542,"h":1.0528,"l":1.0515,"t":"u"},{"i":543,"h":1.0532,"l":1.0520,"t":"u"},{"i":544,"h":1.0537,"l":1.0524,"t":"d"},{"i":545,"h":1.0545,"l":1.0523,"t":"d"},{"i":546,"h":1.0535,"l":1.0520,"t":"d"},{"i":547,"h":1.0537,"l":1.0524,"t":"d"},{"i":548,"h":1.0537,"l":1.0522,"t":"u"},{"i":549,"h":1.0541,"l":1.0522,"t":"u"},
{"i":550,"h":1.0567,"l":1.0531,"t":"u"},{"i":551,"h":1.0589,"l":1.0552,"t":"u"},{"i":552,"h":1.0579,"l":1.0549,"t":"d"},{"i":553,"h":1.0576,"l":1.0563,"t":"d"},{"i":554,"h":1.0574,"l":1.0556,"t":"d"},{"i":555,"h":1.0577,"l":1.0556,"t":"u"},{"i":556,"h":1.0588,"l":1.0582,"t":"d"},{"i":557,"h":1.0588,"l":1.0579,"t":"u"},{"i":558,"h":1.0587,"l":1.0581,"t":"d"},{"i":559,"h":1.0585,"l":1.0581,"t":"d"},
{"i":560,"h":1.0585,"l":1.0579,"t":"d"},{"i":561,"h":1.0587,"l":1.0575,"t":"u"},{"i":562,"h":1.0578,"l":1.0565,"t":"d"},{"i":563,"h":1.0581,"l":1.0566,"t":"u"},{"i":564,"h":1.0579,"l":1.0570,"t":"d"},{"i":565,"h":1.0576,"l":1.0572,"t":"d"},{"i":566,"h":1.0576,"l":1.0570,"t":"d"},{"i":567,"h":1.0583,"l":1.0569,"t":"u"},{"i":568,"h":1.0583,"l":1.0566,"t":"u"},{"i":569,"h":1.0593,"l":1.0575,"t":"d"},
{"i":570,"h":1.0583,"l":1.0569,"t":"u"},{"i":571,"h":1.0587,"l":1.0579,"t":"u"},{"i":572,"h":1.0591,"l":1.0578,"t":"u"},{"i":573,"h":1.0588,"l":1.0579,"t":"d"},{"i":574,"h":1.0627,"l":1.0575,"t":"u"},{"i":575,"h":1.0606,"l":1.0566,"t":"d"},{"i":576,"h":1.0578,"l":1.0543,"t":"d"},{"i":577,"h":1.0575,"l":1.0551,"t":"d"},{"i":578,"h":1.0562,"l":1.0544,"t":"d"},{"i":579,"h":1.0561,"l":1.0544,"t":"d"},
{"i":580,"h":1.0553,"l":1.0541,"t":"d"},{"i":581,"h":1.0563,"l":1.0550,"t":"u"},{"i":582,"h":1.0569,"l":1.0555,"t":"u"},{"i":583,"h":1.0568,"l":1.0552,"t":"u"},{"i":584,"h":1.0568,"l":1.0555,"t":"d"},{"i":585,"h":1.0565,"l":1.0552,"t":"d"},{"i":586,"h":1.0556,"l":1.0550,"t":"u"},{"i":587,"h":1.0556,"l":1.0548,"t":"u"},{"i":588,"h":1.0550,"l":1.0535,"t":"d"},{"i":589,"h":1.0548,"l":1.0530,"t":"d"},
{"i":590,"h":1.0540,"l":1.0535,"t":"u"},{"i":591,"h":1.0544,"l":1.0535,"t":"u"},{"i":592,"h":1.0562,"l":1.0539,"t":"u"},{"i":593,"h":1.0569,"l":1.0556,"t":"u"},{"i":594,"h":1.0574,"l":1.0563,"t":"d"},{"i":595,"h":1.0584,"l":1.0565,"t":"u"},{"i":596,"h":1.0585,"l":1.0561,"t":"d"},{"i":597,"h":1.0584,"l":1.0561,"t":"u"},{"i":598,"h":1.0574,"l":1.0556,"t":"u"},{"i":599,"h":1.0578,"l":1.0562,"t":"u"},
{"i":600,"h":1.0593,"l":1.0569,"t":"u"},{"i":601,"h":1.0593,"l":1.0566,"t":"d"},{"i":602,"h":1.0574,"l":1.0566,"t":"d"},{"i":603,"h":1.0566,"l":1.0550,"t":"d"},{"i":604,"h":1.0557,"l":1.0546,"t":"u"},{"i":605,"h":1.0553,"l":1.0548,"t":"u"},{"i":606,"h":1.0554,"l":1.0548,"t":"u"},{"i":607,"h":1.0557,"l":1.0548,"t":"d"},{"i":608,"h":1.0561,"l":1.0548,"t":"u"},{"i":609,"h":1.0554,"l":1.0545,"t":"d"},
{"i":610,"h":1.0557,"l":1.0544,"t":"u"},{"i":611,"h":1.0559,"l":1.0550,"t":"u"},{"i":612,"h":1.0556,"l":1.0544,"t":"d"},{"i":613,"h":1.0561,"l":1.0555,"t":"u"},{"i":614,"h":1.0566,"l":1.0559,"t":"u"},{"i":615,"h":1.0567,"l":1.0544,"t":"u"},{"i":616,"h":1.0550,"l":1.0546,"t":"d"},{"i":617,"h":1.0550,"l":1.0535,"t":"d"},{"i":618,"h":1.0537,"l":1.0522,"t":"d"},{"i":619,"h":1.0533,"l":1.0521,"t":"d"},
{"i":620,"h":1.0528,"l":1.0524,"t":"u"},{"i":621,"h":1.0532,"l":1.0515,"t":"d"},{"i":622,"h":1.0525,"l":1.0517,"t":"d"},{"i":623,"h":1.0526,"l":1.0514,"t":"d"},{"i":624,"h":1.0514,"l":1.0496,"t":"d"},{"i":625,"h":1.0512,"l":1.0499,"t":"u"},{"i":626,"h":1.0515,"l":1.0507,"t":"u"},{"i":627,"h":1.0524,"l":1.0508,"t":"u"},{"i":628,"h":1.0531,"l":1.0522,"t":"d"},{"i":629,"h":1.0530,"l":1.0522,"t":"u"},
{"i":630,"h":1.0528,"l":1.0522,"t":"u"},{"i":631,"h":1.0530,"l":1.0524,"t":"d"},{"i":632,"h":1.0534,"l":1.0526,"t":"u"},{"i":633,"h":1.0535,"l":1.0525,"t":"u"},{"i":634,"h":1.0535,"l":1.0526,"t":"u"},{"i":635,"h":1.0539,"l":1.0521,"t":"d"},{"i":636,"h":1.0535,"l":1.0522,"t":"u"},{"i":637,"h":1.0527,"l":1.0519,"t":"d"},{"i":638,"h":1.0527,"l":1.0518,"t":"d"},{"i":639,"h":1.0526,"l":1.0514,"t":"u"},
{"i":640,"h":1.0513,"l":1.0487,"t":"d"},{"i":641,"h":1.0517,"l":1.0492,"t":"u"},{"i":642,"h":1.0508,"l":1.0488,"t":"d"},{"i":643,"h":1.0504,"l":1.0485,"t":"d"},{"i":644,"h":1.0508,"l":1.0491,"t":"u"},{"i":645,"h":1.0517,"l":1.0502,"t":"d"},{"i":646,"h":1.0537,"l":1.0487,"t":"u"},{"i":647,"h":1.0528,"l":1.0492,"t":"d"},{"i":648,"h":1.0511,"l":1.0479,"t":"d"},{"i":649,"h":1.0502,"l":1.0485,"t":"d"},
{"i":650,"h":1.0511,"l":1.0488,"t":"u"},{"i":651,"h":1.0496,"l":1.0481,"t":"d"},{"i":652,"h":1.0495,"l":1.0481,"t":"u"},{"i":653,"h":1.0496,"l":1.0485,"t":"d"},{"i":654,"h":1.0501,"l":1.0489,"t":"u"},{"i":655,"h":1.0498,"l":1.0491,"t":"u"},{"i":656,"h":1.0505,"l":1.0491,"t":"u"},{"i":657,"h":1.0507,"l":1.0500,"t":"d"},{"i":658,"h":1.0508,"l":1.0501,"t":"u"},{"i":659,"h":1.0508,"l":1.0501,"t":"u"},
{"i":660,"h":1.0508,"l":1.0502,"t":"d"},{"i":661,"h":1.0509,"l":1.0502,"t":"u"},{"i":662,"h":1.0508,"l":1.0501,"t":"u"},{"i":663,"h":1.0530,"l":1.0511,"t":"u"},{"i":664,"h":1.0521,"l":1.0502,"t":"u"},{"i":665,"h":1.0520,"l":1.0494,"t":"d"},{"i":666,"h":1.0514,"l":1.0505,"t":"u"},{"i":667,"h":1.0507,"l":1.0494,"t":"d"},{"i":668,"h":1.0501,"l":1.0494,"t":"d"},{"i":669,"h":1.0511,"l":1.0491,"t":"u"},
{"i":670,"h":1.0520,"l":1.0469,"t":"d"},{"i":671,"h":1.0519,"l":1.0470,"t":"u"},{"i":672,"h":1.0517,"l":1.0463,"t":"d"},{"i":673,"h":1.0516,"l":1.0485,"t":"d"},{"i":674,"h":1.0483,"l":1.0470,"t":"d"},{"i":675,"h":1.0501,"l":1.0479,"t":"d"},{"i":676,"h":1.0485,"l":1.0474,"t":"d"},{"i":677,"h":1.0474,"l":1.0463,"t":"d"},{"i":678,"h":1.0474,"l":1.0466,"t":"u"},{"i":679,"h":1.0474,"l":1.0461,"t":"u"},
{"i":680,"h":1.0476,"l":1.0466,"t":"u"},{"i":681,"h":1.0481,"l":1.0461,"t":"u"},{"i":682,"h":1.0468,"l":1.0459,"t":"d"},{"i":683,"h":1.0472,"l":1.0459,"t":"u"},{"i":684,"h":1.0465,"l":1.0457,"t":"d"},{"i":685,"h":1.0465,"l":1.0457,"t":"u"},{"i":686,"h":1.0463,"l":1.0454,"t":"u"},{"i":687,"h":1.0465,"l":1.0454,"t":"d"},{"i":688,"h":1.0461,"l":1.0453,"t":"u"},{"i":689,"h":1.0469,"l":1.0454,"t":"u"},
{"i":690,"h":1.0485,"l":1.0465,"t":"u"},{"i":691,"h":1.0494,"l":1.0482,"t":"u"},{"i":692,"h":1.0518,"l":1.0485,"t":"u"},{"i":693,"h":1.0496,"l":1.0485,"t":"d"},{"i":694,"h":1.0522,"l":1.0507,"t":"d"},{"i":695,"h":1.0509,"l":1.0492,"t":"d"},{"i":696,"h":1.0504,"l":1.0488,"t":"u"},{"i":697,"h":1.0501,"l":1.0491,"t":"d"},{"i":698,"h":1.0502,"l":1.0485,"t":"d"},{"i":699,"h":1.0500,"l":1.0489,"t":"d"},
{"i":700,"h":1.0502,"l":1.0489,"t":"d"},{"i":701,"h":1.0498,"l":1.0491,"t":"u"},{"i":702,"h":1.0502,"l":1.0492,"t":"u"},{"i":703,"h":1.0503,"l":1.0482,"t":"u"},{"i":704,"h":1.0511,"l":1.0492,"t":"u"},{"i":705,"h":1.0520,"l":1.0508,"t":"u"},{"i":706,"h":1.0521,"l":1.0509,"t":"u"},{"i":707,"h":1.0521,"l":1.0508,"t":"d"},{"i":708,"h":1.0515,"l":1.0508,"t":"u"},{"i":709,"h":1.0520,"l":1.0513,"t":"u"},
{"i":710,"h":1.0518,"l":1.0514,"t":"u"},{"i":711,"h":1.0521,"l":1.0515,"t":"u"},{"i":712,"h":1.0520,"l":1.0498,"t":"d"},{"i":713,"h":1.0524,"l":1.0500,"t":"u"},{"i":714,"h":1.0520,"l":1.0508,"t":"d"},{"i":715,"h":1.0508,"l":1.0488,"t":"d"},{"i":716,"h":1.0501,"l":1.0482,"t":"u"},{"i":717,"h":1.0507,"l":1.0488,"t":"u"},{"i":718,"h":1.0507,"l":1.0488,"t":"u"},{"i":719,"h":1.0521,"l":1.0469,"t":"d"},
{"i":720,"h":1.0515,"l":1.0498,"t":"u"},{"i":721,"h":1.0520,"l":1.0502,"t":"u"},{"i":722,"h":1.0521,"l":1.0502,"t":"d"},{"i":723,"h":1.0521,"l":1.0504,"t":"u"},{"i":724,"h":1.0521,"l":1.0505,"t":"d"},{"i":725,"h":1.0518,"l":1.0505,"t":"u"},{"i":726,"h":1.0509,"l":1.0505,"t":"d"},{"i":727,"h":1.0514,"l":1.0505,"t":"u"},{"i":728,"h":1.0517,"l":1.0508,"t":"u"},{"i":729,"h":1.0534,"l":1.0514,"t":"u"},
{"i":730,"h":1.0528,"l":1.0517,"t":"d"},{"i":731,"h":1.0526,"l":1.0518,"t":"u"}
],
"levels": [{"p":1.07509},{"p":1.06281},{"p":1.06021},{"p":1.05374},{"p":1.0522},{"p":1.05},{"p":1.04529}],
"trend": [{"g":"upper","i":-0.25,"p":1.09461},{"g":"upper","i":919.25,"p":1.05563},{"g":"lower","i":-0.25,"p":1.04762},{"g":"lower","i":349.75,"p":1.03274}],
"arrows": [{"a":"thin","i":730.25,"p":1.0518},{"a":"thin","i":738.75,"p":1.04692},{"a":"thick","i":741.25,"p":1.04631},{"a":"thick","i":747.95,"p":1.05998}],
"heads": [{"a":"thin","i":738.75,"p":1.04692},{"a":"thick","i":748.6,"p":1.06129}]
},
"layer": [
{"data": {"name": "levels"},
 "transform": [{"filter": "datum.p == 1.0522"}],
 "mark": {"type": "rule", "strokeWidth": 1, "color": "#c0c0c0"},
 "encoding": {
  "y": {"field": "p", "type": "quantitative", "scale": {"domain": [1.03272, 1.09465], "nice": false, "zero": false}, "axis": null}
 }},
{"data": {"name": "bars"},
 "mark": {"type": "rule", "strokeWidth": 1},
 "encoding": {
  "x": {"field": "i", "type": "quantitative", "scale": {"domain": [-0.25, 919.25], "nice": false, "zero": false}, "axis": null},
  "y": {"field": "h", "type": "quantitative", "scale": {"domain": [1.03272, 1.09465], "nice": false, "zero": false},
        "axis": {"orient": "right", "values": [1.09235,1.0895,1.0866,1.0837,1.08085,1.07795,1.07505,1.0722,1.06935,1.06645,1.06355,1.0607,1.0578,1.05495,1.05205,1.04915,1.0463,1.0434,1.04055,1.03765,1.0348],
                 "format": ".5f", "grid": false, "title": null, "domainColor": "#000000", "domainWidth": 1, "tickColor": "#000000", "tickSize": 3, "tickWidth": 1,
                 "labelColor": "#000000", "labelFont": "Liberation Sans", "labelFontSize": 9, "labelPadding": 4, "labelFlush": false, "labelOverlap": false, "labelBound": false}},
  "y2": {"field": "l"},
  "color": {"field": "t", "type": "nominal", "scale": {"domain": ["u", "d", "e"], "range": ["#ff0000", "#0000ff", "#000000"]}, "legend": null}
 }},
{"data": {"name": "levels"},
 "transform": [{"filter": "datum.p != 1.0522"}],
 "mark": {"type": "rule", "strokeWidth": 2},
 "encoding": {
  "y": {"field": "p", "type": "quantitative", "scale": {"domain": [1.03272, 1.09465], "nice": false, "zero": false}, "axis": null},
  "stroke": {"field": "p", "type": "nominal", "scale": {"domain": [1.07509,1.06281,1.06021,1.05374,1.0522,1.05,1.04529], "range": ["#0000ff","#000000","#ff0000","#0000ff","#c0c0c0","#008000","#000000"]}, "legend": null}
 }},
{"data": {"name": "trend"},
 "mark": {"type": "line", "color": "#000000", "strokeWidth": 2, "clip": true},
 "encoding": {
  "x": {"field": "i", "type": "quantitative", "scale": {"domain": [-0.25, 919.25], "nice": false, "zero": false}, "axis": null},
  "y": {"field": "p", "type": "quantitative", "scale": {"domain": [1.03272, 1.09465], "nice": false, "zero": false}, "axis": null},
  "detail": {"field": "g"}
 }},
{"data": {"name": "arrows"},
 "transform": [{"filter": "datum.a == 'thin'"}],
 "mark": {"type": "line", "color": "#000000", "strokeWidth": 1.5},
 "encoding": {
  "x": {"field": "i", "type": "quantitative", "scale": {"domain": [-0.25, 919.25], "nice": false, "zero": false}, "axis": null},
  "y": {"field": "p", "type": "quantitative", "scale": {"domain": [1.03272, 1.09465], "nice": false, "zero": false}, "axis": null}
 }},
{"data": {"name": "arrows"},
 "transform": [{"filter": "datum.a == 'thick'"}],
 "mark": {"type": "trail", "color": "#000000"},
 "encoding": {
  "x": {"field": "i", "type": "quantitative", "scale": {"domain": [-0.25, 919.25], "nice": false, "zero": false}, "axis": null},
  "y": {"field": "p", "type": "quantitative", "scale": {"domain": [1.03272, 1.09465], "nice": false, "zero": false}, "axis": null},
  "size": {"field": "p", "type": "quantitative", "scale": {"domain": [1.04631, 1.05998], "range": [1, 9]}, "legend": null}
 }},
{"data": {"name": "heads"},
 "transform": [{"filter": "datum.a == 'thin'"}],
 "mark": {"type": "point", "shape": "M0,0L0.5,2.2L-0.5,2.2Z", "size": 64, "angle": 163, "filled": true, "color": "#000000", "opacity": 1},
 "encoding": {
  "x": {"field": "i", "type": "quantitative", "scale": {"domain": [-0.25, 919.25], "nice": false, "zero": false}, "axis": null},
  "y": {"field": "p", "type": "quantitative", "scale": {"domain": [1.03272, 1.09465], "nice": false, "zero": false}, "axis": null}
 }},
{"data": {"name": "heads"},
 "transform": [{"filter": "datum.a == 'thick'"}],
 "mark": {"type": "point", "shape": "M0,0L1,1.9L-1,1.9Z", "size": 256, "angle": 5, "filled": true, "color": "#000000", "opacity": 1},
 "encoding": {
  "x": {"field": "i", "type": "quantitative", "scale": {"domain": [-0.25, 919.25], "nice": false, "zero": false}, "axis": null},
  "y": {"field": "p", "type": "quantitative", "scale": {"domain": [1.03272, 1.09465], "nice": false, "zero": false}, "axis": null}
 }},
{"data": {"name": "levels"},
 "mark": {"type": "rect", "xOffset": 2, "x2Offset": 43, "yOffset": -5.5, "y2Offset": 5.5},
 "encoding": {
  "x": {"datum": 919.25, "type": "quantitative", "scale": {"domain": [-0.25, 919.25], "nice": false, "zero": false}, "axis": null},
  "x2": {"datum": 919.25},
  "y": {"field": "p", "type": "quantitative", "scale": {"domain": [1.03272, 1.09465], "nice": false, "zero": false}, "axis": null},
  "y2": {"field": "p"},
  "fill": {"field": "p", "type": "nominal", "scale": {"domain": [1.07509,1.06281,1.06021,1.05374,1.0522,1.05,1.04529], "range": ["#0000ff","#000000","#ff0000","#0000ff","#000000","#008000","#000000"]}, "legend": null}
 }},
{"data": {"name": "levels"},
 "mark": {"type": "text", "align": "left", "baseline": "middle", "dx": 7, "dy": 0.5, "font": "Liberation Sans", "fontSize": 9, "color": "#ffffff"},
 "encoding": {
  "x": {"datum": 919.25, "type": "quantitative", "scale": {"domain": [-0.25, 919.25], "nice": false, "zero": false}, "axis": null},
  "y": {"field": "p", "type": "quantitative", "scale": {"domain": [1.03272, 1.09465], "nice": false, "zero": false}, "axis": null},
  "text": {"field": "p", "type": "quantitative", "format": ".5f"}
 }}
]
}
